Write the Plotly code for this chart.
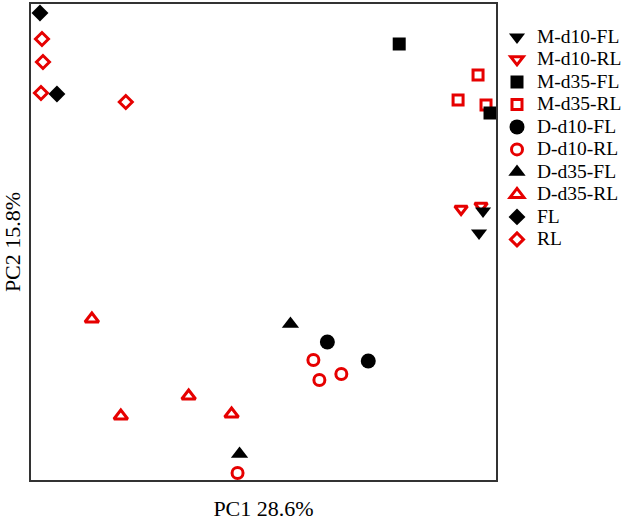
import plotly.graph_objects as go

# PCA scores (arbitrary units)
groups = ["M-d10-FL", "M-d10-RL", "M-d35-FL", "M-d35-RL",
          "D-d10-FL", "D-d10-RL", "D-d35-FL", "D-d35-RL", "FL", "RL"]

m_d10_fl_x = [453, 449]
m_d10_fl_y = [269, 247]
m_d10_rl_x = [431, 451]
m_d10_rl_y = [271, 274]
m_d35_fl_x = [369, 460]
m_d35_fl_y = [436, 367]
m_d35_rl_x = [448, 428, 456]
m_d35_rl_y = [405, 380, 375]
d_d10_fl_x = [297, 338]
d_d10_fl_y = [138, 119]
d_d10_rl_x = [283, 289, 311, 207]
d_d10_rl_y = [120, 100, 106, 7]
d_d35_fl_x = [260, 209]
d_d35_fl_y = [156, 26]
d_d35_rl_x = [61, 90, 158, 201]
d_d35_rl_y = [161, 64, 84, 66]
fl_x = [9, 26]
fl_y = [467, 386]
rl_x = [11, 12, 10, 95]
rl_y = [441, 418, 387, 378]

RED = "#e60000"
BLACK = "#000000"

series = {
    "M-d10-FL": (m_d10_fl_x, m_d10_fl_y, "triangle-down", BLACK, 14, 0),
    "M-d10-RL": (m_d10_rl_x, m_d10_rl_y, "triangle-down-open", RED, 11, 3),
    "M-d35-FL": (m_d35_fl_x, m_d35_fl_y, "square", BLACK, 13, 0),
    "M-d35-RL": (m_d35_rl_x, m_d35_rl_y, "square-open", RED, 10, 3),
    "D-d10-FL": (d_d10_fl_x, d_d10_fl_y, "circle", BLACK, 15, 0),
    "D-d10-RL": (d_d10_rl_x, d_d10_rl_y, "circle-open", RED, 11, 3),
    "D-d35-FL": (d_d35_fl_x, d_d35_fl_y, "triangle-up", BLACK, 15, 0),
    "D-d35-RL": (d_d35_rl_x, d_d35_rl_y, "triangle-up-open", RED, 12, 3),
    "FL": (fl_x, fl_y, "diamond", BLACK, 13, 0),
    "RL": (rl_x, rl_y, "diamond-open", RED, 10, 3),
}

# draw RL groups first so FL markers sit on top; legend keeps original order
draw_order = [g for g in groups if g.endswith("RL")] + [g for g in groups if g.endswith("FL")]

fig = go.Figure()
for name in draw_order:
    x, y, sym, col, size, lw = series[name]
    marker = dict(symbol=sym, color=col, size=size)
    if lw:
        marker["line"] = dict(color=col, width=lw)
    else:
        marker["line"] = dict(width=0)
    fig.add_trace(go.Scatter(
        x=x, y=y, mode="markers", marker=marker,
        name=f'<span style="font-size:19.5px">{name}</span>',
        legendrank=groups.index(name) + 1,
    ))

font_family = "Liberation Serif, Times New Roman, serif"

fig.update_layout(
    width=630, height=521,
    margin=dict(l=31, r=133, t=4, b=41),
    paper_bgcolor="white", plot_bgcolor="white",
    font=dict(family=font_family, color="black"),
    showlegend=True,
    legend=dict(
        x=1.0, xanchor="left", y=0.965, yanchor="top",
        font=dict(size=15, family=font_family, color="black"),
        bgcolor="rgba(0,0,0,0)", borderwidth=0,
        itemwidth=30,
    ),
    xaxis=dict(
        range=[0, 466], showgrid=False, zeroline=False,
        showticklabels=False, ticks="",
        showline=True, mirror=True, linecolor="#333", linewidth=1.5,
        title=dict(text="PC1 28.6%", font=dict(size=22, family=font_family), standoff=22),
        automargin=False,
    ),
    yaxis=dict(
        range=[0, 476], showgrid=False, zeroline=False,
        showticklabels=False, ticks="",
        showline=True, mirror=True, linecolor="#333", linewidth=1.5,
        title=dict(text="PC2 15.8%", font=dict(size=22, family=font_family), standoff=5),
        automargin=False,
    ),
)

fig.write_html("out.html", config={"displayModeBar": False},
               post_script="document.body.style.margin='0';")
